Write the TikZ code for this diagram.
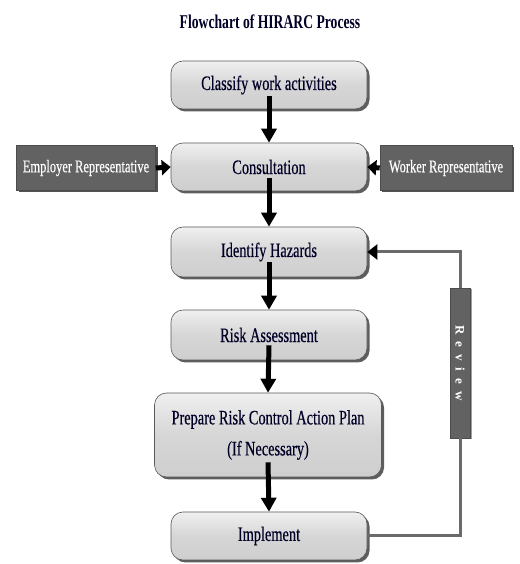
\documentclass[tikz,border=0pt]{standalone}
\usepackage{fontspec}
\newfontfamily\cond[FakeStretch=0.7,FakeBold=0.4]{Liberation Serif}
\newfontfamily\condb[FakeStretch=0.7]{Liberation Serif}
\newfontfamily\revfont{Liberation Serif}
\usetikzlibrary{arrows.meta,shadows,positioning,calc}
\definecolor{boxgray}{HTML}{D6D6D6}
\definecolor{darkbox}{HTML}{626262}
\definecolor{linegray}{HTML}{6A6A6A}
\tikzset{
  stepbox/.style={rectangle, rounded corners=12pt, draw=gray!70!black, line width=0.6pt,
    top color=gray!12, bottom color=gray!38, middle color=boxgray,
    drop shadow={shadow xshift=2.5pt, shadow yshift=-2.5pt, fill=black!70, opacity=0.9},
    minimum width=196pt, minimum height=48pt, align=center,
    font=\cond\fontsize{20.5}{31}\selectfont, text=black!85!blue},
  sidebox/.style={rectangle, draw=black!70, line width=0.6pt, fill=darkbox,
    drop shadow={shadow xshift=2pt, shadow yshift=-2pt, fill=black!75, opacity=0.9},
    minimum height=45pt, text=white, font=\cond\fontsize{17.8}{20}\selectfont},
  flowarrow/.style={line width=5pt, -{Triangle[width=15pt,length=14pt]}, black},
  fbline/.style={line width=3pt, linegray},
}
\begin{document}
\begin{tikzpicture}[x=1pt,y=1pt]
\useasboundingbox (0,0) rectangle (519,564);
\node[font=\condb\bfseries\fontsize{19.5}{22}\selectfont, text=black!85!blue] (title) at (270,542) {Flowchart of HIRARC Process};
\node[stepbox] (classify) at (269,479) {Classify work activities};
\node[stepbox] (consult) at (269,397) {Consultation};
\node[stepbox, minimum height=50pt] (identify) at (269,312) {Identify Hazards};
\node[stepbox, minimum height=50pt] (risk) at (269,229) {Risk Assessment};
\node[stepbox, minimum width=227pt, minimum height=84pt] (prepare) at (268,129) {Prepare Risk Control Action Plan\\(If Necessary)};
\node[stepbox] (implement) at (269,28) {Implement};
\node[sidebox, minimum width=139pt] (employer) at (86,396) {Employer Representative};
\node[sidebox, minimum width=132pt] (worker) at (446,396) {Worker Representative};
\node[rectangle, draw=black!70, fill=darkbox, minimum width=20pt, minimum height=150pt,
  drop shadow={shadow xshift=1.5pt, shadow yshift=-1.5pt, fill=black!75}] (review) at (460,201) {};
\node[rotate=-90, text=white, font=\revfont\bfseries\fontsize{13}{13}\selectfont] (reviewtxt) at (review.center)
  {R\hspace{7pt}e\hspace{7pt}v\hspace{7pt}i\hspace{7pt}e\hspace{7pt}w};
% main flow arrows
\draw[flowarrow] ($(classify.south)+(0,13)$) -- (consult.north);
\draw[flowarrow] ($(consult.south)+(0,13)$) -- (identify.north);
\draw[flowarrow] ($(identify.south)+(0,15)$) -- (risk.north);
\draw[flowarrow] ($(risk.south)+(0,15)$) -- (prepare.north);
\draw[flowarrow] ($(prepare.south)+(0,15)$) -- (implement.north);
% side arrows
\draw[line width=5pt, -{Triangle[width=15pt,length=9pt]}] (employer.east) -- (consult.west);
\draw[line width=5pt, -{Triangle[width=15pt,length=9pt]}] (worker.west) -- (consult.east);
% feedback loop
\draw[fbline] (implement.east) -| (review.south);
\draw[fbline, -{Triangle[width=15pt,length=10pt,color=black]}] (review.north) |- (identify.east);
\end{tikzpicture}
\end{document}
